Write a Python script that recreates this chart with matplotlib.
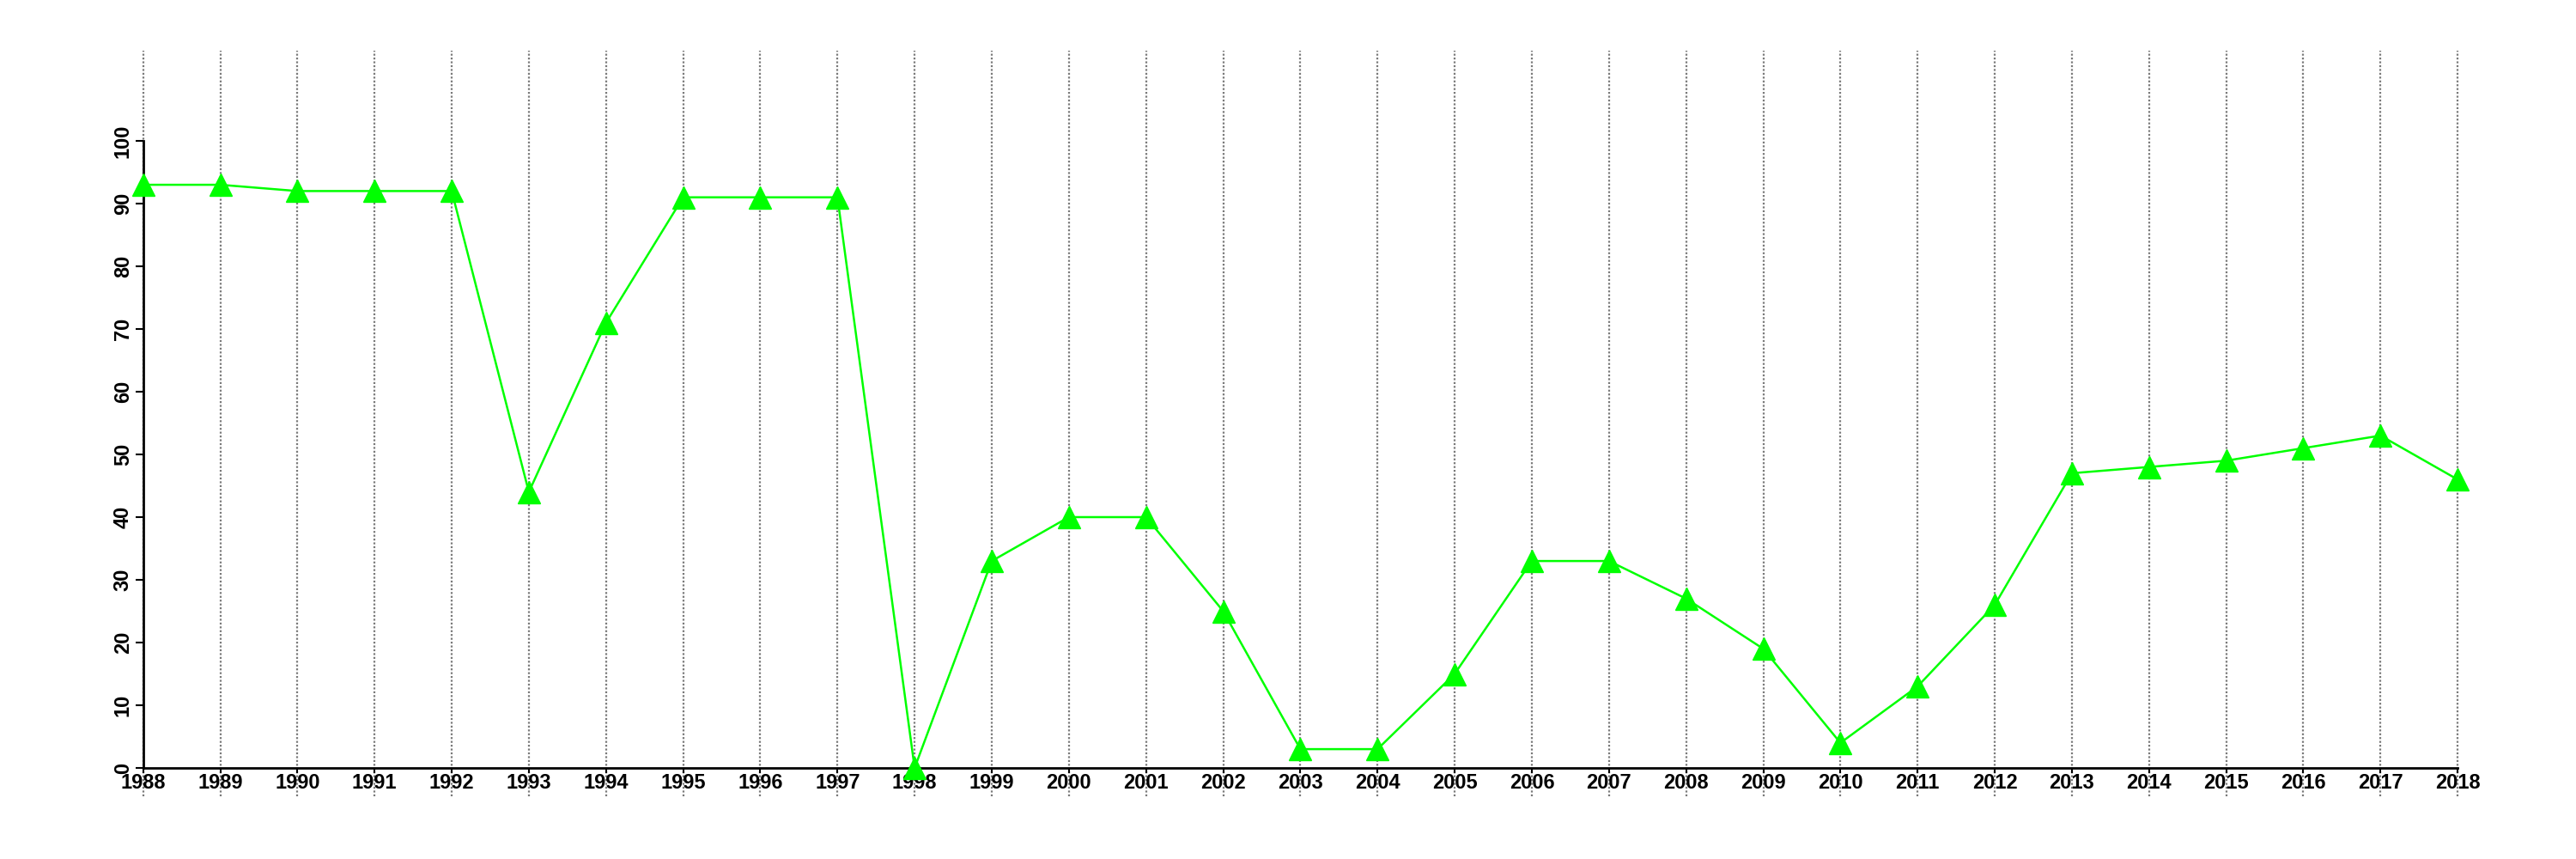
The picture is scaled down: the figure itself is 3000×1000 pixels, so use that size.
import matplotlib
matplotlib.use('Agg')
import matplotlib.pyplot as plt

# ── données ─────────────────────────────────
years = list(range(1988, 2019))
values = [93, 93, 92, 92, 92, 44, 71, 91, 91, 91,
          0, 33, 40, 40, 25, 3, 3, 15, 33, 33,
          27, 19, 4, 13, 26, 47, 48, 49, 51, 53, 46]
yticks = list(range(0, 101, 10))

GREEN = '#00ff00'
GRID = '#7a7a7a'

plt.rcParams['font.family'] = ['Liberation Sans', 'DejaVu Sans']

fig = plt.figure(figsize=(30, 10), dpi=100)
ax = fig.add_axes([0.0256, 0.0695, 0.9584, 0.876])
ax.set_xlim(1987, 2019)
ax.set_ylim(-5, 115)

# lignes verticales pointillées (une par année)
ax.vlines(years, -4.5, 114.4, colors=GRID, linestyles=(0, (1, 1)),
          lw=1.6, clip_on=False, zorder=1)

ax.plot(years, values, color=GREEN, lw=1.8, marker='^', ms=19,
        mec=GREEN, mfc=GREEN, zorder=3, clip_on=False)

# axes façon R : traits limités à la plage des données
for s in ('top', 'right'):
    ax.spines[s].set_visible(False)
ax.spines['left'].set_position(('data', 1988))
ax.spines['left'].set_bounds(0, 100)
ax.spines['bottom'].set_position(('data', 0))
ax.spines['bottom'].set_bounds(1988, 2018)
ax.spines['left'].set_linewidth(2)
ax.spines['bottom'].set_linewidth(2)

ax.set_xticks(years)
ax.set_xticklabels([str(y) for y in years], fontsize=17, fontweight='bold')
ax.set_yticks(yticks)
ax.set_yticklabels([str(v) for v in yticks], fontsize=17, fontweight='bold',
                   rotation=90, va='center')
ax.tick_params(axis='x', length=4.5, width=1.5, pad=0)
ax.tick_params(axis='y', length=6.5, width=1.5, pad=2)

fig.savefig('out.png', dpi=100, facecolor='white')
